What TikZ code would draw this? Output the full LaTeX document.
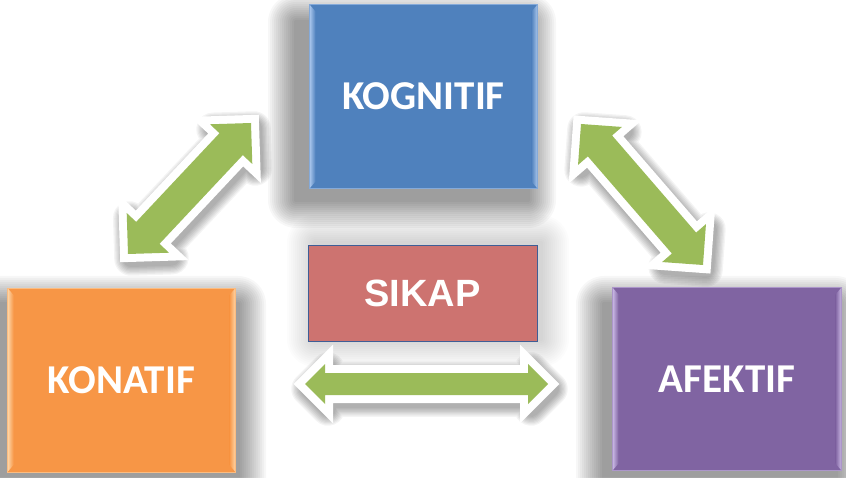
\documentclass[tikz,border=0pt]{standalone}
\usepackage{fontspec}
\setmainfont{Carlito}
\newfontfamily\sikapfont{Liberation Sans}
\usetikzlibrary{calc}
\definecolor{kblue}{HTML}{4F81BD}
\definecolor{kblueL}{HTML}{A9C6EC}
\definecolor{korange}{HTML}{F79646}
\definecolor{korangeL}{HTML}{FDD6A8}
\definecolor{kpurple}{HTML}{8064A2}
\definecolor{kpurpleL}{HTML}{C9B8E4}
\definecolor{ksikap}{HTML}{CD7370}
\definecolor{kgreen}{HTML}{9BBB59}
\definecolor{kborder}{HTML}{3F5E96}
\tikzset{
  bigbox/.style={minimum width=227pt, minimum height=183pt, inner sep=0pt,
    text=white, line width=0.8pt,
    font=\bfseries\fontsize{41}{41}\selectfont},
  sikapbox/.style={minimum width=229pt, minimum height=96pt, inner sep=0pt,
    text=white, fill=ksikap, draw=kborder, line width=0.8pt,
    font=\sikapfont\bfseries\fontsize{38}{38}\selectfont},
  arrowback/.style={fill=white, draw=white, line width=16pt, line join=miter},
  arrowfront/.style={fill=kgreen},
}
% soft shadow: centre x, centre y, width, height, opacity per layer
\newcommand\softshadow[5]{%
  \foreach \k in {0,...,13}{%
    \pgfmathsetmacro\ex{2+\k*2}%
    \fill[black, opacity=#5, rounded corners=\ex pt]
      ({#1-#3/2-\ex},{#2-#4/2-\ex}) rectangle ({#1+#3/2+\ex},{#2+#4/2+\ex});}}
\newcommand\arrowpath[6]{%
  \path[#1] (#2) -- ($(#2)!#4!(#3)!#5!90:(#3)$) -- ($(#2)!#4!(#3)!#6!90:(#3)$)
    -- ($(#3)!#4!(#2)!#6!-90:(#2)$) -- ($(#3)!#4!(#2)!#5!-90:(#2)$) -- (#3)
    -- ($(#3)!#4!(#2)!#5!90:(#2)$) -- ($(#3)!#4!(#2)!#6!90:(#2)$)
    -- ($(#2)!#4!(#3)!#6!-90:(#3)$) -- ($(#2)!#4!(#3)!#5!-90:(#3)$) -- cycle;}
\newcommand\blockarrow[5]{%
  \begin{scope}[transform canvas={shift={(3pt,-5pt)}}]
    \foreach \k in {0,...,7}{%
      \pgfmathsetmacro\lw{16+\k*2.5}%
      \arrowpath{draw=black, draw opacity=0.045, line width=\lw pt, line join=round}{#1}{#2}{#3}{#4}{#5}}
  \end{scope}
  \arrowpath{arrowback}{#1}{#2}{#3}{#4}{#5}
  \arrowpath{arrowfront}{#1}{#2}{#3}{#4}{#5}}
\newcommand\bevels[3]{%
  \shade[left color=#2, right color=#3]
    (#1.north west) -- ++(6,-7) -- ($(#1.south west)+(6,7)$) -- (#1.south west) -- cycle;
  \shade[left color=#3, right color=#2]
    (#1.north east) -- ++(-6,-7) -- ($(#1.south east)+(-6,7)$) -- (#1.south east) -- cycle;
  \draw[#2!60!#3, line width=0.8pt] (#1.north west) rectangle (#1.south east);}
\begin{document}
\begin{tikzpicture}[x=1pt,y=1pt]
\useasboundingbox[fill=white] (0,0) rectangle (846,477);
% shadows
\softshadow{412}{366}{232}{178}{0.03}
\softshadow{118}{84}{240}{178}{0.03}
\softshadow{720}{84}{232}{178}{0.03}
\softshadow{428}{186}{226}{96}{0.012}
% boxes
\node[bigbox, fill=kblue] (kog) at (423.5,380.5) {KOGNITIF};
\bevels{kog}{kblueL}{kblue}
\node[bigbox, fill=korange] (kon) at (121.5,97) {KONATIF};
\bevels{kon}{korangeL}{korange}
\node[bigbox, fill=kpurple, minimum width=228pt, minimum height=182pt] (afe) at (727,98) {AFEKTIF};
\bevels{afe}{kpurpleL}{kpurple}
\node[sikapbox] (sik) at (422.5,184) {SIKAP};
% arrow ends
\coordinate (hl) at (305,93);
\coordinate (hr) at (548,93);
\coordinate (ll) at (128,223);
\coordinate (lu) at (251,354);
\coordinate (ru) at (581,353);
\coordinate (rl) at (703,212);
\blockarrow{hl}{hr}{20pt}{20pt}{11pt}
\blockarrow{ll}{lu}{29pt}{29pt}{16pt}
\blockarrow{ru}{rl}{29pt}{29pt}{16pt}
\end{tikzpicture}
\end{document}
